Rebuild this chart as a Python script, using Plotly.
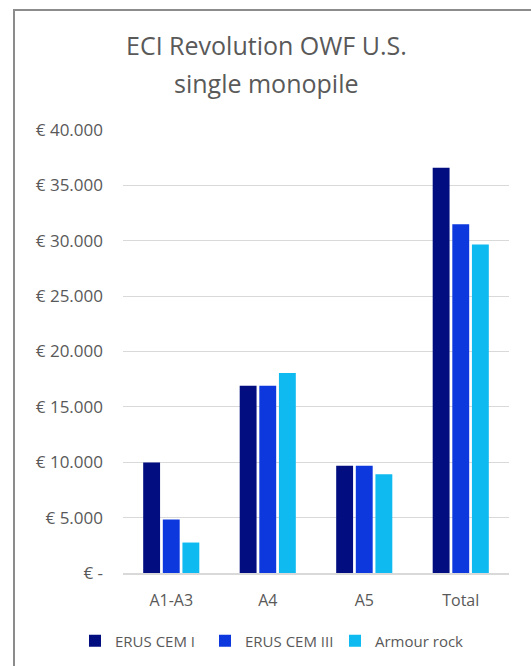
import plotly.graph_objects as go

categories = ["A1-A3", "A4", "A5", "Total"]
series_names = ["ERUS CEM I", "ERUS CEM III", "Armour rock"]
cem1 = [9980, 16900, 9680, 36590]
cem3 = [4830, 16900, 9680, 31500]
armour = [2750, 18050, 8920, 29660]
series_values = [cem1, cem3, armour]
colors = ["#020E80", "#0D38DD", "#0EBAEF"]
y_tickvals = [0, 5000, 10000, 15000, 20000, 25000, 30000, 35000, 40000]
y_ticktext = ["€ -", "€ 5.000", "€ 10.000", "€ 15.000", "€ 20.000",
              "€ 25.000", "€ 30.000", "€ 35.000", "€ 40.000"]
title_lines = ["ECI Revolution OWF U.S.", "single monopile"]

W, H = 531, 666
L, R, T, B = 123, 22, 130, 93
pw, ph = W - L - R, H - T - B

def px_x(x):
    return (x - L) / pw

def px_y(y):
    return (H - B - y) / ph

FONT = "Open Sans"
GREY = "#595959"

fig = go.Figure()
for name, vals, c in zip(series_names, series_values, colors):
    fig.add_trace(go.Bar(x=categories, y=vals, name=name, marker_color=c,
                         marker_line_width=0))

fig.update_layout(
    width=W, height=H,
    margin=dict(l=L, r=R, t=T, b=B, autoexpand=False),
    paper_bgcolor="white", plot_bgcolor="white",
    barmode="group", bargap=0.39, bargroupgap=0.14,
    font=dict(family=FONT, color=GREY, size=16),
    showlegend=True,
    legend=dict(orientation="h", xref="container", yref="container",
                x=270 / W, xanchor="center",
                y=1 - 641 / H, yanchor="middle",
                font=dict(size=15, color=GREY), itemwidth=30,
                entrywidth=85, entrywidthmode="pixels",
                bgcolor="rgba(0,0,0,0)"),
    xaxis=dict(showgrid=False, showline=True, linecolor="#d9d9d9", linewidth=1.5,
               tickfont=dict(size=16, color=GREY), ticks="", ticklabelstandoff=12),
    yaxis=dict(range=[0, 40000], tickvals=y_tickvals, ticktext=y_ticktext,
               showgrid=True, gridcolor="#d9d9d9", gridwidth=1, zeroline=False,
               showline=False, tickfont=dict(size=17, color=GREY),
               ticks="", ticklabelstandoff=19),
)

for i, (txt, ypx) in enumerate(zip(title_lines, [45, 83])):
    fig.add_annotation(text=txt, xref="paper", yref="paper",
                       x=px_x(266), y=px_y(ypx), xanchor="center", yanchor="middle",
                       showarrow=False, font=dict(size=25, color=GREY, family=FONT))

fig.add_shape(type="rect", xref="paper", yref="paper",
              x0=px_x(14), x1=px_x(540), y0=px_y(10), y1=px_y(680),
              line=dict(color="#8c8c8c", width=2), fillcolor="rgba(0,0,0,0)",
              layer="below")

fig.write_html("out.html", config={"displayModeBar": False},
               post_script="document.body.style.margin='0';document.body.style.overflow='hidden';")
